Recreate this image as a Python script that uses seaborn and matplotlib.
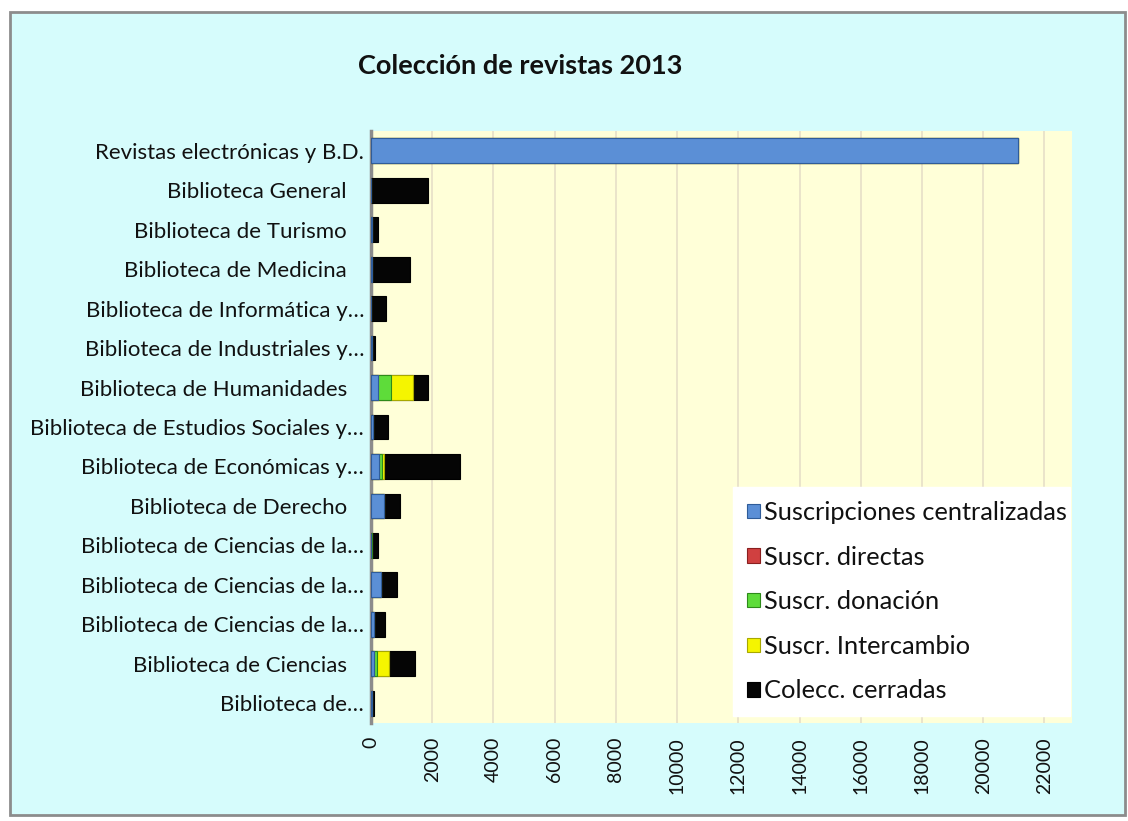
import matplotlib
matplotlib.use('Agg')
import matplotlib.pyplot as plt
import seaborn as sns
import pandas as pd
import numpy as np
from matplotlib.patches import Rectangle, Patch

# ---------------- data ----------------
categories = [
    "Revistas electrónicas y B.D.",
    "Biblioteca General\u00a0\u00a0\u00a0",
    "Biblioteca de Turismo\u00a0\u00a0\u00a0",
    "Biblioteca de Medicina\u00a0\u00a0\u00a0",
    "Biblioteca de Informática y…",
    "Biblioteca de Industriales y…",
    "Biblioteca de Humanidades\u00a0\u00a0\u00a0",
    "Biblioteca de Estudios Sociales y…",
    "Biblioteca de Económicas y…",
    "Biblioteca de Derecho\u00a0\u00a0\u00a0",
    "Biblioteca de Ciencias de la…",
    "Biblioteca de Ciencias de la…",
    "Biblioteca de Ciencias de la…",
    "Biblioteca de Ciencias\u00a0\u00a0\u00a0",
    "Biblioteca de…",
]
series_names = ["Suscripciones centralizadas", "Suscr. directas", "Suscr. donación",
                "Suscr. Intercambio", "Colecc. cerradas"]
centralizadas = [21150, 0, 40, 40, 0, 20, 230, 65, 260, 425, 10, 330, 85, 85, 20]
directas      = [0, 10, 0, 0, 0, 0, 10, 0, 10, 0, 0, 0, 0, 10, 0]
donacion      = [0, 0, 0, 0, 0, 0, 415, 0, 85, 0, 10, 0, 0, 110, 0]
intercambio   = [0, 0, 0, 0, 0, 0, 730, 0, 65, 0, 0, 0, 0, 370, 0]
cerradas      = [0, 1860, 180, 1230, 500, 100, 490, 500, 2480, 510, 200, 510, 360, 860, 80]
x_ticks = list(range(0, 22001, 2000))

colors = ["#5B8FD6", "#D04040", "#5EDC3A", "#F5F500", "#050505"]
edges = ["#2F5C99", "#8A1F1F", "#2E8A1A", "#A8A800", "#000000"]

# ---------------- figure ----------------
sns.set_theme(style="white")
plt.rcParams['font.family'] = ['Lato', 'DejaVu Sans']
plt.rcParams['text.color'] = '#111111'

W, H = 1128, 821
fig = plt.figure(figsize=(W / 100, H / 100), dpi=100)
fig.patch.set_facecolor("white")
bg = Rectangle((10 / W, 6 / H), 1115 / W, 803 / H, transform=fig.transFigure,
               facecolor="#D6FCFC", edgecolor="#8C8C8C", linewidth=2)
bg.set_zorder(-10)
fig.patches.append(bg)

ax = fig.add_axes([371 / W, 1 - 723 / H, 701 / W, 592 / H])
ax.set_zorder(1)
ax.set_facecolor("#FFFFD8")

keys = [f"k{i}" for i in range(len(categories))]
series = [centralizadas, directas, donacion, intercambio, cerradas]
cum = np.cumsum(np.array(series, dtype=float), axis=0)

for i in reversed(range(len(series))):
    df = pd.DataFrame({"key": keys, "value": cum[i]})
    sns.barplot(data=df, x="value", y="key", order=keys, orient="h", color=colors[i],
                saturation=1, width=0.63, edgecolor=edges[i], linewidth=0.8,
                errorbar=None, ax=ax, zorder=3)

ax.set_xlim(0, 22900)
ax.set_ylim(len(keys) - 0.5, -0.5)
ax.set_xticks(x_ticks)
ax.set_xticklabels([str(t) for t in x_ticks], rotation=90, fontsize=14, color="#111111")
ax.set_yticks(range(len(keys)))
ax.set_yticklabels(categories, fontsize=16, color="#111111")
ax.set_xlabel("")
ax.set_ylabel("")
ax.xaxis.grid(True, color="#E6DFC8", linewidth=1.2, zorder=0)
ax.set_axisbelow(True)
ax.tick_params(axis="y", length=3, width=1, color="#333333", pad=2)
ax.tick_params(axis="x", length=0, pad=10)
for s in ["top", "right", "bottom"]:
    ax.spines[s].set_visible(False)
ax.spines["left"].set_color("#8C8C8C")
ax.spines["left"].set_linewidth(2.5)

handles = [Patch(facecolor=c, edgecolor=e, linewidth=0.8) for c, e in zip(colors, edges)]
leg = fig.legend(handles, series_names, loc="upper left",
                 bbox_to_anchor=(733 / W, 1 - 718 / H, 337 / W, 231 / H),
                 bbox_transform=fig.transFigure, mode="expand", borderaxespad=0,
                 fontsize=18.3, labelspacing=0.85, handlelength=0.5, handleheight=0.5,
                 handletextpad=0.15, borderpad=0.55, fancybox=False, frameon=True)
leg.set_zorder(5)
leg.get_frame().set_facecolor("white")
leg.get_frame().set_edgecolor("white")
leg.get_frame().set_alpha(1)

fig.text(520 / W, 1 - 66 / H, "Colección de revistas 2013", ha="center", va="center",
         fontsize=19.5, fontweight="bold")

fig.savefig("out.png", dpi=100)
